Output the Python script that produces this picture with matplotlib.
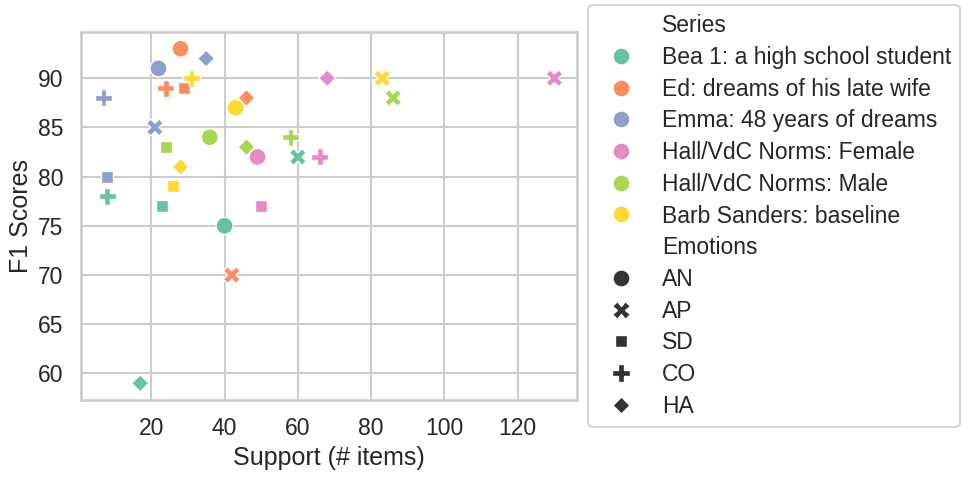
import numpy as np
import pandas as pd
import matplotlib
matplotlib.use("Agg")
import matplotlib.pyplot as plt
import seaborn as sns

series_names = [
    "Bea 1: a high school student",
    "Ed: dreams of his late wife",
    "Emma: 48 years of dreams",
    "Hall/VdC Norms: Female",
    "Hall/VdC Norms: Male",
    "Barb Sanders: baseline",
]
emotions = ["AN", "AP", "SD", "CO", "HA"]

# support (# items) per series, in emotion order AN, AP, SD, CO, HA
support = {
    "Bea 1: a high school student": [40, 60, 23, 8, 17],
    "Ed: dreams of his late wife": [28, 42, 29, 24, 46],
    "Emma: 48 years of dreams": [22, 21, 8, 7, 35],
    "Hall/VdC Norms: Female": [49, 130, 50, 66, 68],
    "Hall/VdC Norms: Male": [36, 86, 24, 58, 46],
    "Barb Sanders: baseline": [43, 83, 26, 31, 28],
}
f1 = {
    "Bea 1: a high school student": [75, 82, 77, 78, 59],
    "Ed: dreams of his late wife": [93, 70, 89, 89, 88],
    "Emma: 48 years of dreams": [91, 85, 80, 88, 92],
    "Hall/VdC Norms: Female": [82, 90, 77, 82, 90],
    "Hall/VdC Norms: Male": [84, 88, 83, 84, 83],
    "Barb Sanders: baseline": [87, 90, 79, 90, 81],
}

rows = []
for s in series_names:
    for e, x, y in zip(emotions, support[s], f1[s]):
        rows.append({"Series": s, "Emotions": e, "Support (# items)": x, "F1 Scores": y})
df = pd.DataFrame(rows)

sns.set_theme(context="talk", style="whitegrid")
plt.rcParams["font.family"] = ["Liberation Sans", "DejaVu Sans"]

fig = plt.figure(figsize=(9.7, 4.78), dpi=100)
ax = fig.add_axes([81 / 970, 1 - 400 / 478, 496 / 970, 368 / 478])
sns.scatterplot(data=df, x="Support (# items)", y="F1 Scores", hue="Series",
                style="Emotions", palette="Set2", s=150, ax=ax)
ax.set_xticks([20, 40, 60, 80, 100, 120])
ax.legend(loc="center left", bbox_to_anchor=(1, 0.5), labelspacing=0.38)

fig.savefig("out.png", dpi=100)
